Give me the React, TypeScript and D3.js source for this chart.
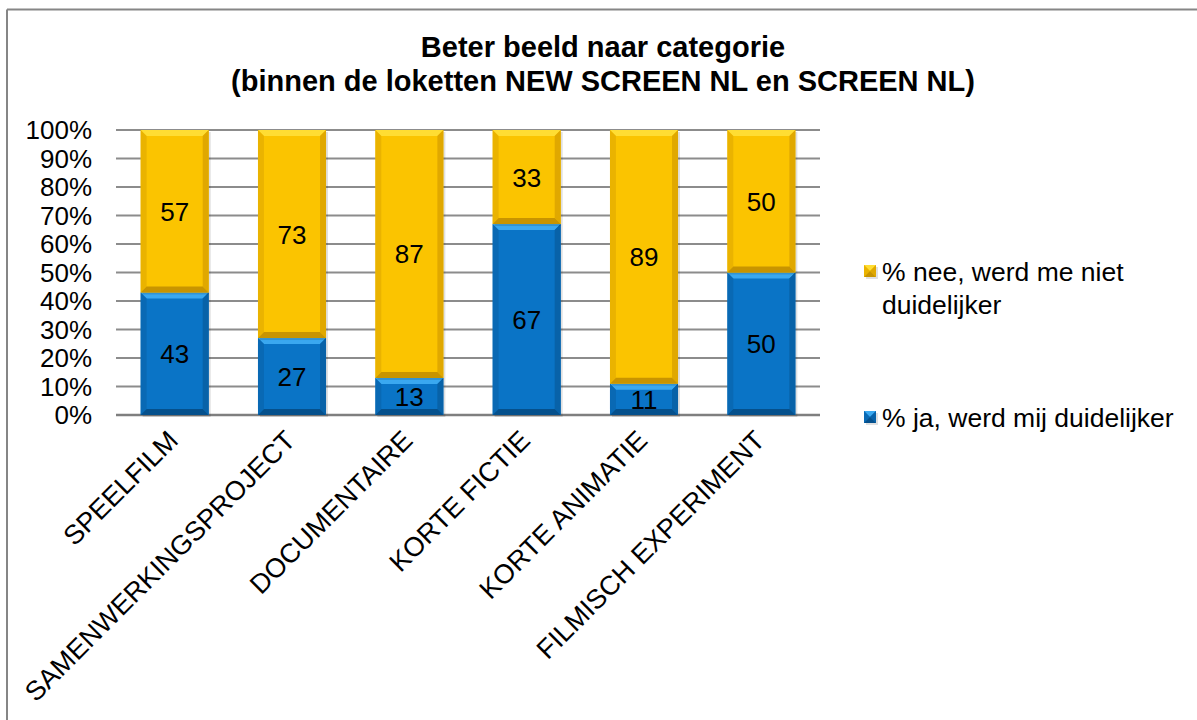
import React from "react";
import * as d3 from "d3";

const categories = ["SPEELFILM", "SAMENWERKINGSPROJECT", "DOCUMENTAIRE", "KORTE FICTIE", "KORTE ANIMATIE", "FILMISCH EXPERIMENT"];
const jaValues = [43, 27, 13, 67, 11, 50];
const neeValues = [57, 73, 87, 33, 89, 50];
const yTicks = [0, 10, 20, 30, 40, 50, 60, 70, 80, 90, 100];
const seriesNames = ["% ja, werd mij duidelijker", "% nee, werd me niet duidelijker"];

const W = 1197, H = 720;
const plotLeft = 116, plotRight = 820, plotTop = 130, plotBottom = 415;
const font = "Liberation Sans, Arial, sans-serif";

const BLUE = { base: "#0A74C6", top: "#3AA8F0", side: "#0862A8", bottom: "#05508C" };
const YEL = { base: "#FBC400", top: "#FFDD33", side: "#E0A800", bottom: "#C89400" };

function Bevel({ x, y, w, h, c }: { x: number; y: number; w: number; h: number; c: typeof BLUE }) {
  const b = Math.min(6, h / 2, w / 2);
  const x2 = x + w, y2 = y + h;
  return (
    <g>
      <rect x={x + 2} y={y + 2} width={w} height={h} fill="#000" opacity={0.12} />
      <rect x={x} y={y} width={w} height={h} fill={c.base} />
      <polygon points={`${x},${y} ${x2},${y} ${x2 - b},${y + b} ${x + b},${y + b}`} fill={c.top} />
      <polygon points={`${x},${y} ${x + b},${y + b} ${x + b},${y2 - b} ${x},${y2}`} fill={c.side} opacity={0.6} />
      <polygon points={`${x2},${y} ${x2},${y2} ${x2 - b},${y2 - b} ${x2 - b},${y + b}`} fill={c.side} />
      <polygon points={`${x},${y2} ${x + b},${y2 - b} ${x2 - b},${y2 - b} ${x2},${y2}`} fill={c.bottom} />
    </g>
  );
}

export default function App() {
  const x = d3.scaleBand<string>().domain(categories).range([plotLeft, plotRight]).paddingInner(0.42).paddingOuter(0.21);
  const y = d3.scaleLinear().domain([0, 100]).range([plotBottom, plotTop]);
  const bw = x.bandwidth();

  return (
    <svg width={W} height={H} style={{ position: "absolute", left: 0, top: 0, background: "#fff" }} fontFamily={font}>
      <rect x={0} y={0} width={W} height={H} fill="#fff" />
      <line x1={7} y1={9.5} x2={W} y2={9.5} stroke="#868686" strokeWidth={2} />
      <line x1={7} y1={9.5} x2={7} y2={H} stroke="#868686" strokeWidth={2} />

      <text x={603} y={57} textAnchor="middle" fontSize={29} fontWeight="bold" fill="#000">Beter beeld naar categorie</text>
      <text x={603} y={91} textAnchor="middle" fontSize={29} fontWeight="bold" fill="#000">(binnen de loketten NEW SCREEN NL en SCREEN NL)</text>

      {yTicks.map((t) => (
        <g key={t}>
          <line x1={plotLeft} x2={plotRight} y1={y(t)} y2={y(t)} stroke={t === 0 ? "#7f7f7f" : "#8c8c8c"} strokeWidth={t === 0 ? 2.5 : 1.8} />
          <text x={92} y={y(t) + 9} textAnchor="end" fontSize={26} fill="#000">{t}%</text>
        </g>
      ))}

      {categories.map((c, i) => {
        const bx = x(c)!;
        const ja = jaValues[i], nee = neeValues[i];
        return (
          <g key={c}>
            <Bevel x={bx} y={y(ja)} w={bw} h={y(0) - y(ja)} c={BLUE} />
            <Bevel x={bx} y={y(ja + nee)} w={bw} h={y(ja) - y(ja + nee)} c={YEL} />
            <text x={bx + bw / 2} y={(y(0) + y(ja)) / 2 + 9.5} textAnchor="middle" fontSize={26} fill="#000">{ja}</text>
            <text x={bx + bw / 2} y={(y(ja) + y(ja + nee)) / 2 + 9.5} textAnchor="middle" fontSize={26} fill="#000">{nee}</text>
          </g>
        );
      })}

      {categories.map((c) => {
        const cx = x(c)! + bw / 2 + 5;
        return (
          <text key={c} transform={`translate(${cx},${plotBottom + 27}) rotate(-45)`} textAnchor="end" fontSize={27} fill="#000">{c}</text>
        );
      })}

      <g>
        <Bevel x={864} y={265} w={12} h={12} c={YEL} />
        <text x={882} y={281} fontSize={26.5} fill="#000">% nee, werd me niet</text>
        <text x={882} y={314} fontSize={26.5} fill="#000">duidelijker</text>
        <Bevel x={864} y={411} w={12} h={12} c={BLUE} />
        <text x={882} y={427} fontSize={26.5} fill="#000">{seriesNames[0]}</text>
      </g>
    </svg>
  );
}
